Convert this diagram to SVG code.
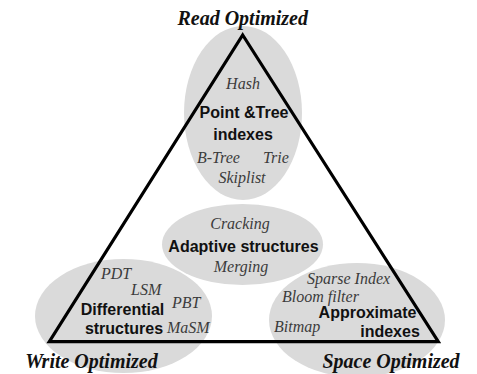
<svg xmlns="http://www.w3.org/2000/svg" width="477" height="374" viewBox="0 0 477 374">
  <style>
    .bg { fill: #ffffff; }
    .blob { fill: #dadada; stroke: none; }
    .corner { font-family: "Liberation Serif", "Times New Roman", serif; font-weight: bold; font-style: italic; font-size: 20px; fill: #111111; text-anchor: middle; }
    .item { font-family: "Liberation Serif", "Times New Roman", serif; font-style: italic; font-size: 16px; fill: #3c3c3c; }
    .title { font-family: "Liberation Sans", Arial, sans-serif; font-weight: bold; font-size: 16px; fill: #111111; }
    .mid { text-anchor: middle; }
    .edge { fill: none; stroke: #000000; stroke-width: 3.2; stroke-linejoin: miter; }
  </style>

  <rect class="bg" x="0" y="0" width="477" height="374"/>

  <!-- Point & tree indexes (top) -->
  <g id="point-tree">
    <ellipse class="blob" cx="243" cy="113" rx="59" ry="87"/>
    <text class="item mid" x="243" y="89">Hash</text>
    <text class="title mid" x="244" y="118">Point &amp;Tree</text>
    <text class="title mid" x="243" y="140">indexes</text>
    <text class="item" x="197" y="163">B-Tree</text>
    <text class="item" x="263" y="163">Trie</text>
    <text class="item mid" x="242" y="183">Skiplist</text>
  </g>

  <!-- Adaptive structures (centre) -->
  <g id="adaptive">
    <ellipse class="blob" cx="242.5" cy="244.5" rx="80.5" ry="40.5"/>
    <text class="item mid" x="240" y="229">Cracking</text>
    <text class="title mid" x="243.5" y="252">Adaptive structures</text>
    <text class="item mid" x="241" y="272">Merging</text>
  </g>

  <!-- Differential structures (bottom left) -->
  <g id="differential">
    <ellipse class="blob" cx="123.5" cy="316" rx="88.5" ry="57"/>
    <text class="item" x="101" y="279">PDT</text>
    <text class="item" x="131" y="295">LSM</text>
    <text class="item" x="172" y="308">PBT</text>
    <text class="title mid" x="122.5" y="315">Differential</text>
    <text class="title mid" x="124" y="334">structures</text>
    <text class="item" x="167" y="333">MaSM</text>
  </g>

  <!-- Approximate indexes (bottom right) -->
  <g id="approximate">
    <ellipse class="blob" cx="357" cy="320" rx="88" ry="57"/>
    <text class="item" x="307" y="284">Sparse Index</text>
    <text class="item" x="282" y="302">Bloom filter</text>
    <text class="title mid" x="367.5" y="318">Approximate</text>
    <text class="title mid" x="390" y="337">indexes</text>
    <text class="item" x="274" y="332">Bitmap</text>
  </g>

  <!-- Triangle joining the three optimisation goals -->
  <g id="connectors">
    <polygon class="edge" points="242.7,35 438.3,341.7 49.3,341.7"/>
  </g>

  <g id="read-optimized">
    <text class="corner" x="242.7" y="25">Read Optimized</text>
  </g>
  <g id="write-optimized">
    <text class="corner" x="91.5" y="368">Write Optimized</text>
  </g>
  <g id="space-optimized">
    <text class="corner" x="391" y="368">Space Optimized</text>
  </g>
</svg>
